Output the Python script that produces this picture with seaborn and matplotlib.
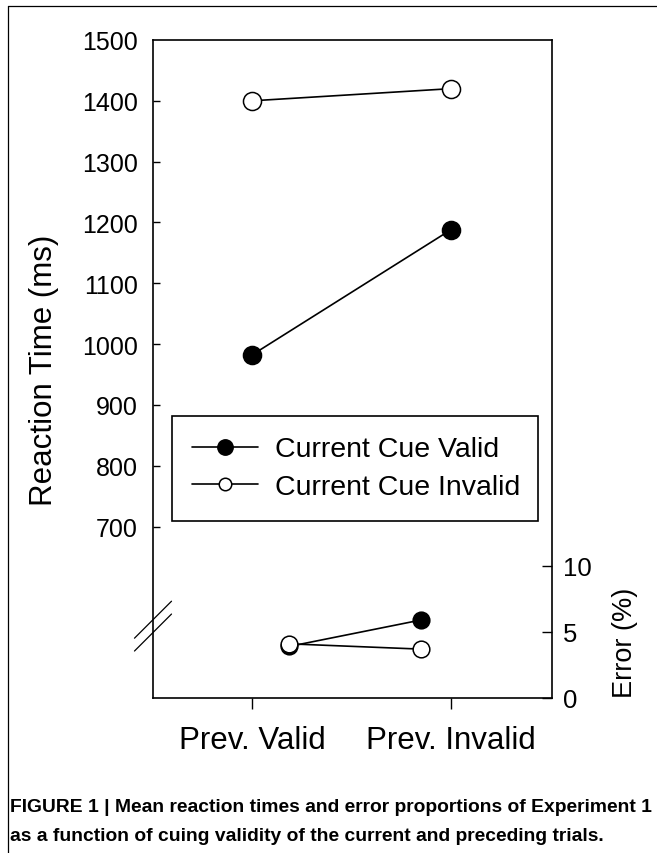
import numpy as np
import pandas as pd
import matplotlib
matplotlib.use("Agg")
import matplotlib.pyplot as plt
import seaborn as sns
from matplotlib.lines import Line2D
from matplotlib import font_manager

# values
conditions = ["Prev. Valid", "Prev. Invalid"]
series_labels = ["Current Cue Valid", "Current Cue Invalid"]
rt_valid = [982, 1188]
rt_invalid = [1400, 1420]
err_valid = [3.9, 5.9]
err_invalid = [4.1, 3.7]
rt_ticks = [700, 800, 900, 1000, 1100, 1200, 1300, 1400, 1500]
err_ticks = [0, 5, 10]
caption_1 = "FIGURE 1 | Mean reaction times and error proportions of Experiment 1"
caption_2 = "as a function of cuing validity of the current and preceding trials."

sns.set_style("ticks")
plt.rcParams["font.family"] = ["Liberation Sans", "DejaVu Sans"]
plt.rcParams["text.color"] = "black"
plt.rcParams["axes.labelcolor"] = "black"

pos = np.arange(len(conditions))
rt_df = pd.DataFrame({"pos": pos, "valid": rt_valid, "invalid": rt_invalid})
err_df = pd.DataFrame({"pos": pos, "valid": err_valid, "invalid": err_invalid})

fig = plt.figure(figsize=(6.57, 8.54), dpi=100)
rect = [153 / 657, 1 - 699 / 854, 399 / 657, 658 / 854]
ax = fig.add_axes(rect)
ax_err = fig.add_axes(rect, zorder=3)
ax_err.patch.set_visible(False)

filled = dict(color="black", marker="o", markersize=13, markerfacecolor="black",
              markeredgecolor="black", markeredgewidth=1.1, linewidth=1.2)
hollow = dict(filled, markerfacecolor="white")

# reaction times
sns.lineplot(data=rt_df, x="pos", y="valid", ax=ax, errorbar=None,
             label=series_labels[0], **filled)
sns.lineplot(data=rt_df, x="pos", y="invalid", ax=ax, errorbar=None,
             label=series_labels[1], **hollow)

# error rates (own small scale at the bottom)
err_kw = dict(markersize=12)
sns.lineplot(data=err_df, x="pos", y="valid", ax=ax_err, errorbar=None,
             legend=False, **{**filled, **err_kw})
sns.lineplot(data=err_df, x="pos", y="invalid", ax=ax_err, errorbar=None,
             legend=False, **{**hollow, **err_kw})

ax.set_xlim(-0.497, 1.508)
ax.set_ylim(418, 1500)
ax.set_xticks(pos, conditions)
ax.set_yticks(rt_ticks)
ax.set_xlabel("")
ax.set_ylabel("Reaction Time (ms)", fontsize=22.5)
ax.yaxis.set_label_coords(-0.236, 0.5)
ax.tick_params(axis="y", direction="in", length=5, width=1, labelsize=18, pad=10.8,
               right=False, colors="black")
ax.tick_params(axis="x", direction="out", length=8, width=1, labelsize=22.5, pad=11.5,
               colors="black")
ax.yaxis.get_major_ticks()[-1].tick1line.set_visible(False)
for s in ax.spines.values():
    s.set_visible(True)
    s.set_linewidth(1.2)
    s.set_color("black")

ax_err.set_xlim(-1.033, 1.997)
ax_err.set_ylim(0, 49.8)
ax_err.set_yticks(err_ticks)
ax_err.set_xticks([])
ax_err.set_xlabel("")
ax_err.yaxis.tick_right()
ax_err.yaxis.set_label_position("right")
ax_err.set_ylabel("Error (%)", fontsize=19.5)
ax_err.yaxis.set_label_coords(1.150, 0.085)
ax_err.tick_params(axis="y", direction="in", length=7, width=1, labelsize=18.5, pad=8,
                   left=False, colors="black")
for s in ax_err.spines.values():
    s.set_visible(False)

# axis break marks on the left spine
for yc in [0.119, 0.0995]:
    ax.plot([-0.0464, 0.0464], [yc - 0.0281, yc + 0.0281], transform=ax.transAxes,
            color="black", linewidth=0.9, clip_on=False)

leg = ax.legend(loc="upper left", bbox_to_anchor=(0.0476, 0.269, 0.9174, 0.1596),
                mode="expand", fontsize=20.5, frameon=True, fancybox=False,
                edgecolor="black", framealpha=1, borderpad=0.72, labelspacing=0.42,
                handlelength=2.3, handletextpad=0.6, borderaxespad=0)
leg.get_frame().set_linewidth(1.2)
for h, ms in zip(leg.legend_handles, [11, 9]):
    h.set_markersize(ms)

# page frame (top and left edge)
fig.add_artist(Line2D([8 / 657, 1], [1 - 7 / 854] * 2, transform=fig.transFigure,
                      color="black", linewidth=0.9))
fig.add_artist(Line2D([8 / 657] * 2, [0, 1 - 7 / 854], transform=fig.transFigure,
                      color="black", linewidth=0.9))

names = {f.name for f in font_manager.fontManager.ttflist}
cap_family = "Liberation Sans Narrow" if "Liberation Sans Narrow" in names else "Liberation Sans"
t1 = fig.text(10 / 657, 1 - 812 / 854, caption_1, fontsize=14.4, fontweight="bold",
              family=cap_family, ha="left", va="baseline")
fig.canvas.draw()
w = t1.get_window_extent().width
size = 14.4 * 642 / w
t1.set_fontsize(size)
fig.text(10 / 657, 1 - 841 / 854, caption_2, fontsize=size, fontweight="bold",
         family=cap_family, ha="left", va="baseline")

fig.savefig("out.png", dpi=100)
